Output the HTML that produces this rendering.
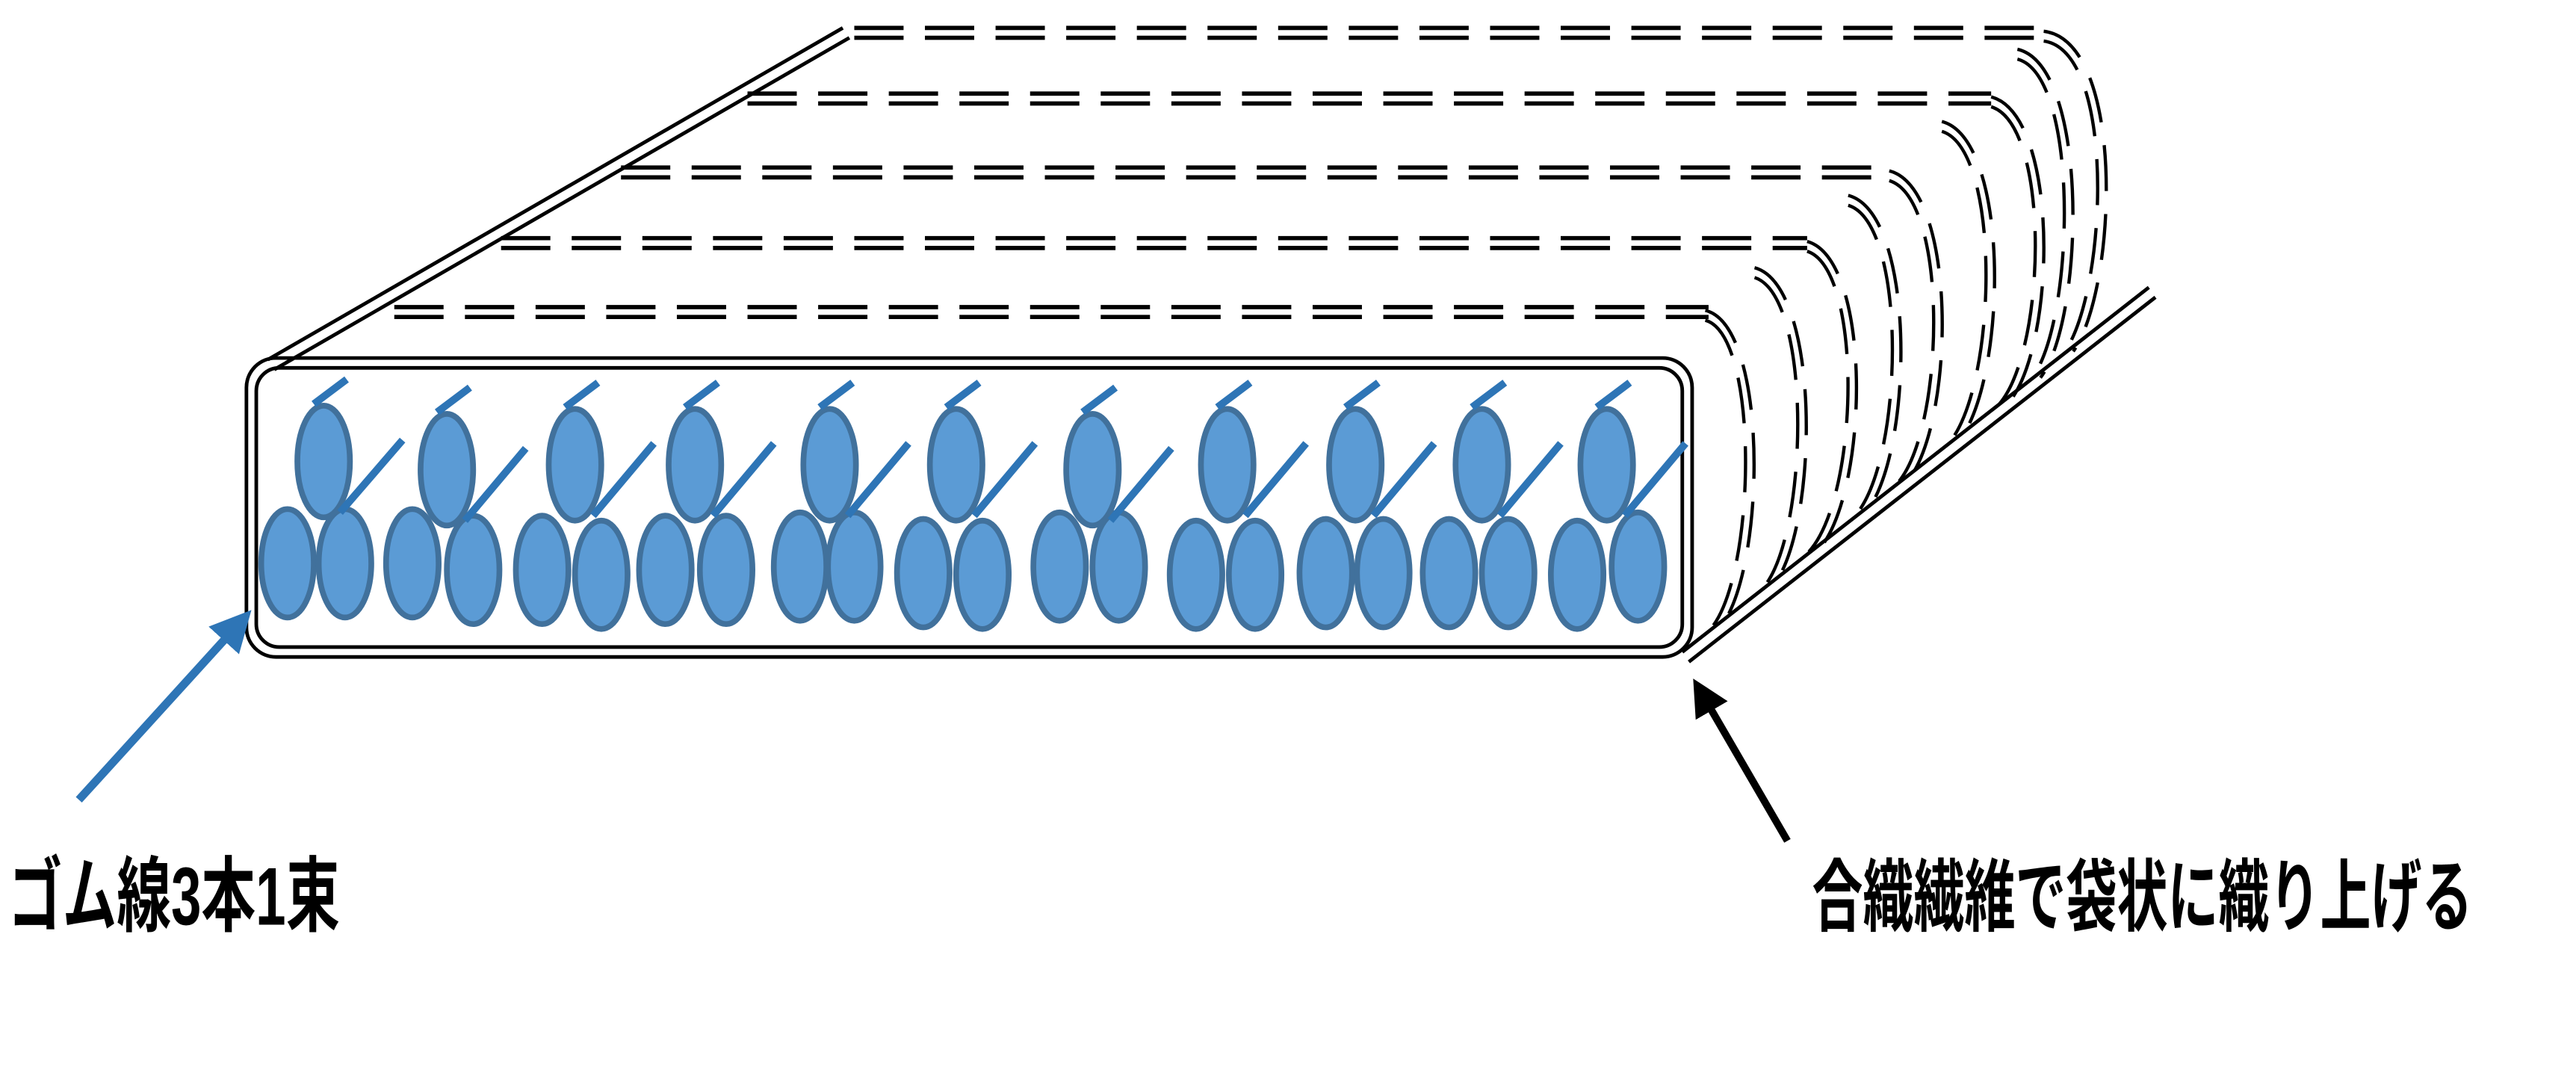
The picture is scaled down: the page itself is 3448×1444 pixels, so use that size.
<!DOCTYPE html>
<html><head><meta charset="utf-8"><style>
html,body{margin:0;padding:0;background:#fff;}
svg{display:block;}
</style></head><body>
<svg width="3448" height="1444" viewBox="0 0 1568 657" preserveAspectRatio="none" xmlns="http://www.w3.org/2000/svg">
<defs>
<marker id="ab" markerWidth="5" markerHeight="5" refX="3.5" refY="2.5" orient="auto" markerUnits="strokeWidth"><path d="M0,0 L5,2.5 L0,5 z" fill="#2e75b6"/></marker>
<marker id="ak" markerWidth="5" markerHeight="5" refX="3.5" refY="2.5" orient="auto" markerUnits="strokeWidth"><path d="M0,0 L5,2.5 L0,5 z" fill="#000"/></marker>
</defs>
<g fill="none" stroke="#000" stroke-width="2.2">
<line x1="163" y1="219" x2="513" y2="17"/>
<line x1="167" y1="225" x2="517" y2="23"/>
<line x1="1024" y1="397" x2="1308" y2="175"/>
<line x1="1028" y1="403" x2="1312" y2="181"/>
<rect x="150" y="218" width="880" height="182" rx="18"/>
<rect x="156" y="224" width="868" height="170" rx="14"/>
</g>
<g fill="none" stroke="#000" stroke-width="2.6" stroke-dasharray="30 13">
<line x1="520" y1="17" x2="1245" y2="17"/><line x1="520" y1="23" x2="1245" y2="23"/>
<line x1="455" y1="57" x2="1212" y2="57"/><line x1="455" y1="63" x2="1212" y2="63"/>
<line x1="378" y1="102" x2="1150" y2="102"/><line x1="378" y1="108" x2="1150" y2="108"/>
<line x1="305" y1="145" x2="1100" y2="145"/><line x1="305" y1="151" x2="1100" y2="151"/>
<line x1="240" y1="187" x2="1040" y2="187"/><line x1="240" y1="193" x2="1040" y2="193"/>
</g>
<g fill="none" stroke="#000" stroke-width="2" stroke-dasharray="28 14">
<path d="M1244,19 C1294,25 1289,175 1262,214"/><path d="M1244,25 C1288,31 1283,175 1257,214"/>
<path d="M1228,30 C1272,40 1269,195 1242,230"/><path d="M1228,36 C1266,46 1263,195 1237,230"/>
<path d="M1212,59 C1254,70 1252,212 1222,246"/><path d="M1212,65 C1248,76 1246,212 1217,246"/>
<path d="M1182,74 C1224,85 1222,232 1192,269"/><path d="M1182,80 C1218,91 1216,232 1187,269"/>
<path d="M1150,104 C1192,115 1190,258 1161,293"/><path d="M1150,110 C1186,121 1184,258 1156,293"/>
<path d="M1125,119 C1167,130 1165,278 1135,313"/><path d="M1125,125 C1161,136 1159,278 1130,313"/>
<path d="M1100,147 C1140,158 1138,302 1106,336"/><path d="M1100,153 C1134,164 1132,302 1101,336"/>
<path d="M1068,163 C1109,174 1107,323 1079,357"/><path d="M1068,169 C1103,180 1101,323 1074,357"/>
<path d="M1038,189 C1077,198 1075,348 1047,382"/><path d="M1038,195 C1071,204 1069,348 1042,382"/>
</g>
<g fill="#5b9bd5" stroke="#41719c" stroke-width="3.5">
<ellipse cx="175" cy="343" rx="16" ry="33"/><ellipse cx="210" cy="343" rx="16" ry="33"/>
<ellipse cx="251" cy="343" rx="16" ry="33"/><ellipse cx="288" cy="347" rx="16" ry="33"/>
<ellipse cx="330" cy="347" rx="16" ry="33"/><ellipse cx="366" cy="350" rx="16" ry="33"/>
<ellipse cx="405" cy="347" rx="16" ry="33"/><ellipse cx="442" cy="347" rx="16" ry="33"/>
<ellipse cx="487" cy="345" rx="16" ry="33"/><ellipse cx="520" cy="345" rx="16" ry="33"/>
<ellipse cx="562" cy="349" rx="16" ry="33"/><ellipse cx="598" cy="350" rx="16" ry="33"/>
<ellipse cx="645" cy="345" rx="16" ry="33"/><ellipse cx="681" cy="345" rx="16" ry="33"/>
<ellipse cx="728" cy="350" rx="16" ry="33"/><ellipse cx="764" cy="350" rx="16" ry="33"/>
<ellipse cx="807" cy="349" rx="16" ry="33"/><ellipse cx="842" cy="349" rx="16" ry="33"/>
<ellipse cx="882" cy="349" rx="16" ry="33"/><ellipse cx="918" cy="349" rx="16" ry="33"/>
<ellipse cx="960" cy="350" rx="16" ry="33"/><ellipse cx="997" cy="345" rx="16" ry="33"/>
<ellipse cx="197" cy="281" rx="16" ry="34"/><ellipse cx="272" cy="286" rx="16" ry="34"/>
<ellipse cx="350" cy="283" rx="16" ry="34"/><ellipse cx="423" cy="283" rx="16" ry="34"/>
<ellipse cx="505" cy="283" rx="16" ry="34"/><ellipse cx="582" cy="283" rx="16" ry="34"/>
<ellipse cx="665" cy="286" rx="16" ry="34"/><ellipse cx="747" cy="283" rx="16" ry="34"/>
<ellipse cx="825" cy="283" rx="16" ry="34"/><ellipse cx="902" cy="283" rx="16" ry="34"/>
<ellipse cx="978" cy="283" rx="16" ry="34"/>
</g>
<g stroke="#2e75b6" stroke-width="4.5" fill="none">
<path d="M191,246 L211,231 M207,312 L245,268"/>
<path d="M266,251 L286,236 M283,317 L320,273"/>
<path d="M344,248 L364,233 M361,314 L398,270"/>
<path d="M417,248 L437,233 M434,314 L471,270"/>
<path d="M499,248 L519,233 M516,314 L553,270"/>
<path d="M576,248 L596,233 M593,314 L630,270"/>
<path d="M659,251 L679,236 M676,317 L713,273"/>
<path d="M741,248 L761,233 M758,314 L795,270"/>
<path d="M819,248 L839,233 M836,314 L873,270"/>
<path d="M896,248 L916,233 M913,314 L950,270"/>
<path d="M972,248 L992,233 M989,314 L1026,270"/>
</g>
<line x1="48" y1="487" x2="148" y2="377" stroke="#2e75b6" stroke-width="5" marker-end="url(#ab)"/>
<line x1="1088" y1="512" x2="1034" y2="419" stroke="#000" stroke-width="4.5" marker-end="url(#ak)"/>
<text x="5" y="563" font-family="'Liberation Sans','Noto Sans CJK JP',sans-serif" font-weight="bold" font-size="50" textLength="202" lengthAdjust="spacingAndGlyphs" fill="#000">ゴム線3本1束</text>
<text x="1103" y="563" font-family="'Liberation Sans','Noto Sans CJK JP',sans-serif" font-weight="bold" font-size="48" textLength="402" lengthAdjust="spacingAndGlyphs" fill="#000">合織繊維で袋状に織り上げる</text>
</svg>
</body></html>
